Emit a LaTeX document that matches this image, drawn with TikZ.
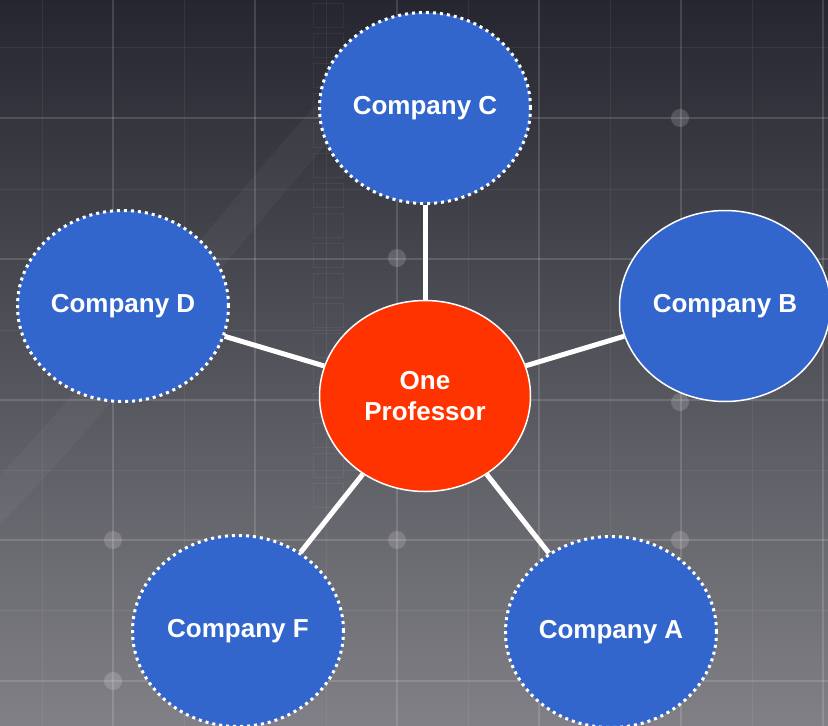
\documentclass[tikz,border=0pt]{standalone}
\usepackage{fontspec}
\setmainfont{Liberation Sans}
\usetikzlibrary{shapes.geometric}
\definecolor{compblue}{RGB}{51,102,204}
\definecolor{profred}{RGB}{255,51,0}
\definecolor{bgtop}{RGB}{38,38,48}
\definecolor{bgbottom}{RGB}{128,128,134}
\tikzset{company/.style={
    ellipse,minimum width=211pt,minimum height=191pt,inner sep=0pt,
    fill=compblue,draw=white,line width=3pt,
    dash pattern=on 3pt off 4pt,
    text=white,align=center,
    font=\bfseries\fontsize{26}{31}\selectfont}
}
\tikzset{firm/.style={
    company,solid,line width=1.5pt}
}
\tikzset{professor/.style={
    company,solid,line width=1.5pt,fill=profred}
}
\tikzset{link/.style={draw=white,line width=5pt},
  gridmajor/.style={draw=white,opacity=0.14,line width=1.6pt},
  gridminor/.style={draw=white,opacity=0.06,line width=1pt},
  glow/.style={fill=white,opacity=0.16},
  strip/.style={draw=white,opacity=0.05,line width=1pt}
}

\begin{document}
\begin{tikzpicture}[x=1pt,y=-1pt]
    \useasboundingbox (0,0) rectangle (828,726);
    \clip (0,0) rectangle (828,726);
    % background
    \shade[top color=bgtop,bottom color=bgbottom] (0,0) rectangle (828,726);
    \draw[draw=white,opacity=0.035,line width=34pt,line cap=round]
      (-20,520) .. controls (120,380) and (220,230) .. (380,60);
    \foreach \x in {42,184,326,468,610,752}
      \draw[gridminor] (\x,0) -- (\x,726);
    \foreach \y in {47,189,330,470,610}
      \draw[gridminor] (0,\y) -- (828,\y);
    \foreach \x in {113,255,397,539,681,823}
      \draw[gridmajor] (\x,0) -- (\x,726);
    \foreach \y in {118,259,400,540,681}
      \draw[gridmajor] (0,\y) -- (828,\y);
    \foreach \y in {0,30,...,480}
      \draw[strip] (313,\y+3) rectangle (343,\y+27);
    \foreach \p in {(397,258),(680,118),(680,402),(113,540),(397,540),(680,540),(113,681)}
      \fill[glow] \p circle (9);
    % nodes
    \node (prof) [professor] at (425,396) {One\\Professor};
    \node (compC) [company] at (425,108) {Company C};
    \node (compB) [firm] at (725,306) {Company B};
    \node (compD) [company] at (123,306) {Company D};
    \node (compF) [company] at (238,631) {Company F};
    \node (compA) [company] at (611,632) {Company A};
    % links
    \draw[link] (prof) -- (compC);
    \draw[link] (prof) -- (compB);
    \draw[link] (prof) -- (compD);
    \draw[link] (prof) -- (compF);
    \draw[link] (prof) -- (compA);
\end{tikzpicture}
\end{document}
